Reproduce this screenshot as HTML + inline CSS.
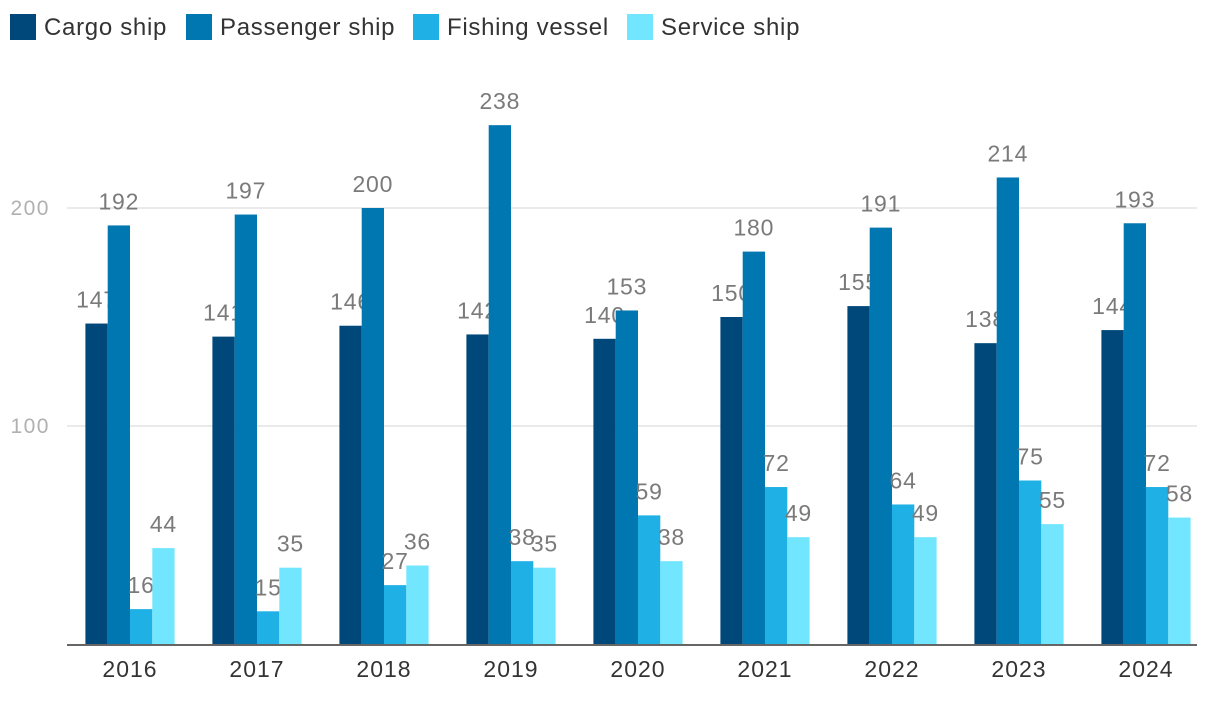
<!DOCTYPE html>
<html><head><meta charset="utf-8"><style>
body{margin:0;background:#fff;width:1220px;height:702px;overflow:hidden;font-family:"Liberation Sans",sans-serif}
</style></head><body>
<svg id="chart" width="1220" height="702" xmlns="http://www.w3.org/2000/svg"></svg>
<script>
const categories=["2016","2017","2018","2019","2020","2021","2022","2023","2024"];
const seriesNames=["Cargo ship","Passenger ship","Fishing vessel","Service ship"];
const cargo=[147,141,146,142,140,150,155,138,144];
const passenger=[192,197,200,238,153,180,191,214,193];
const fishing=[16,15,27,38,59,72,64,75,72];
const service=[44,35,36,35,38,49,49,55,58];
const yTicks=[100,200];
const colors=["#00487a","#0077b0","#1fb0e6","#72e6ff"];
const series=[cargo,passenger,fishing,service];
const svg=document.getElementById('chart');
const NS="http://www.w3.org/2000/svg";
const x0=66.5,step=127,y0=644,k=2.18,bw=22.3;
const y=v=>y0-v*k;
function mk(t,a,txt){const e=document.createElementNS(NS,t);for(const n in a)e.setAttribute(n,a[n]);if(txt!==undefined)e.textContent=txt;svg.appendChild(e);return e;}
yTicks.forEach(t=>{
 const g=mk('line',{x1:67,x2:1197,y1:y(t),y2:y(t),stroke:'#e3e3e3','stroke-width':1.5});
 
 
 const l=mk('text',{x:50,y:y(t)+7,'text-anchor':'end','font-size':21,'letter-spacing':1.5,fill:'#b0b0b0'},t);
 
 
});
const ax=mk('line',{x1:67,x2:1197,y1:645,y2:645,stroke:'#333','stroke-width':1.5});


categories.forEach((c,i)=>{
 const cx=x0+step*(i+0.5);
 const t=mk('text',{x:cx,y:677,'text-anchor':'middle','font-size':23,'letter-spacing':1,fill:'#333'},c);
 
 
 series.forEach((s,j)=>{
  const bx=cx-2*bw+j*bw;
  const r=mk('rect',{x:bx,y:y(s[i]),width:bw,height:s[i]*k,fill:colors[j]});
  
  
  const v=mk('text',{x:bx+bw/2,y:y(s[i])-16,'text-anchor':'middle','font-size':23,'letter-spacing':0.8,fill:'#7a7a7a'},s[i]);
  
  
 });
});
let lx=10;
const lw=[176,227,214,190];
seriesNames.forEach((n,j)=>{
 const r=mk('rect',{x:lx,y:14,width:26,height:26,fill:colors[j]});
 
 
 const t=mk('text',{x:lx+34,y:35,'font-size':24,'letter-spacing':0.7,fill:'#333'},n);
 
 
 lx+=lw[j];
});
</script>
</body></html>
